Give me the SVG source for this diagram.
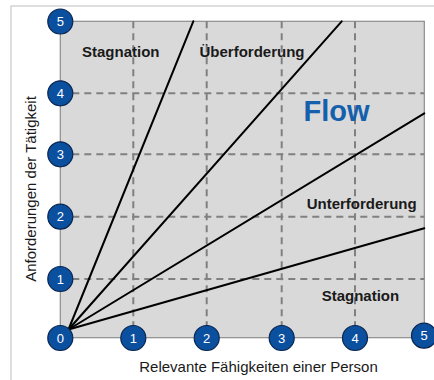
<svg xmlns="http://www.w3.org/2000/svg" width="434" height="380" viewBox="0 0 434 380">
<defs>
<style>
.frame{fill:#fff;stroke:#d4d4d4;stroke-width:1.5}
.plot{fill:#d9d9d9;stroke:#8c8c8c;stroke-width:1.2}
.grid{stroke:#808080;stroke-width:2;stroke-dasharray:7 5;fill:none}
.ln{stroke:#000;stroke-width:2;fill:none;stroke-linecap:round}
.dot circle{fill:#0b4f9f;stroke:#0a2550;stroke-width:1.2}
.dot text{fill:#fff;font-family:"Liberation Sans",Arial,sans-serif;font-size:13px;text-anchor:middle}
.lbl{font-family:"Liberation Sans",Arial,sans-serif;font-size:15px;font-weight:bold;fill:#1a1a1a}
.ax{font-family:"Liberation Sans",Arial,sans-serif;font-size:15px;fill:#1a1a1a;text-anchor:middle}
</style>
</defs>
<rect class="frame" x="11" y="6" width="432" height="384"/>
<rect class="plot" x="60.3" y="21.3" width="364" height="316.4"/>
<g id="grid">
<line class="grid" x1="133.3" y1="21.3" x2="133.3" y2="337.7"/>
<line class="grid" x1="206.7" y1="21.3" x2="206.7" y2="337.7"/>
<line class="grid" x1="281.7" y1="21.3" x2="281.7" y2="337.7"/>
<line class="grid" x1="355" y1="21.3" x2="355" y2="337.7"/>
<line class="grid" x1="60.3" y1="93.3" x2="424.3" y2="93.3"/>
<line class="grid" x1="60.3" y1="154.3" x2="424.3" y2="154.3"/>
<line class="grid" x1="60.3" y1="216.7" x2="424.3" y2="216.7"/>
<line class="grid" x1="60.3" y1="279" x2="424.3" y2="279"/>
</g>
<g id="connectors">
<line class="ln" x1="68.5" y1="329.5" x2="193.3" y2="21.3"/>
<line class="ln" x1="68.5" y1="329.5" x2="341.7" y2="21.3"/>
<line class="ln" x1="68.5" y1="329.5" x2="424.3" y2="113.3"/>
<line class="ln" x1="68.5" y1="329.5" x2="424.3" y2="228.3"/>
</g>
<g id="labels">
<text class="lbl" x="82" y="57">Stagnation</text>
<text class="lbl" x="199.5" y="57">Überforderung</text>
<text class="lbl" x="303.5" y="120.5" style="font-size:29px;fill:#1560ac">Flow</text>
<text class="lbl" x="306.7" y="209">Unterforderung</text>
<text class="lbl" x="321.7" y="301">Stagnation</text>
<text class="ax" x="258.5" y="371.5">Relevante Fähigkeiten einer Person</text>
<text class="ax" transform="translate(35.5,189) rotate(-90)">Anforderungen der Tätigkeit</text>
</g>
<g id="y5" class="dot"><circle cx="60.3" cy="21.5" r="12.5"/><text x="60.3" y="26">5</text></g>
<g id="y4" class="dot"><circle cx="60.3" cy="93.3" r="12.5"/><text x="60.3" y="97.8">4</text></g>
<g id="y3" class="dot"><circle cx="60.3" cy="154.3" r="12.5"/><text x="60.3" y="158.8">3</text></g>
<g id="y2" class="dot"><circle cx="60.3" cy="216.7" r="12.5"/><text x="60.3" y="221.2">2</text></g>
<g id="y1" class="dot"><circle cx="60.3" cy="279" r="12.5"/><text x="60.3" y="283.5">1</text></g>
<g id="o0" class="dot"><circle cx="60.3" cy="338" r="12.5"/><text x="60.3" y="342.5">0</text></g>
<g id="x1" class="dot"><circle cx="133.3" cy="338" r="12.5"/><text x="133.3" y="342.5">1</text></g>
<g id="x2" class="dot"><circle cx="206.7" cy="338" r="12.5"/><text x="206.7" y="342.5">2</text></g>
<g id="x3" class="dot"><circle cx="281.7" cy="338" r="12.5"/><text x="281.7" y="342.5">3</text></g>
<g id="x4" class="dot"><circle cx="355" cy="338" r="12.5"/><text x="355" y="342.5">4</text></g>
<g id="x5" class="dot"><circle cx="424" cy="335.7" r="12.5"/><text x="424" y="340.2">5</text></g>
</svg>
